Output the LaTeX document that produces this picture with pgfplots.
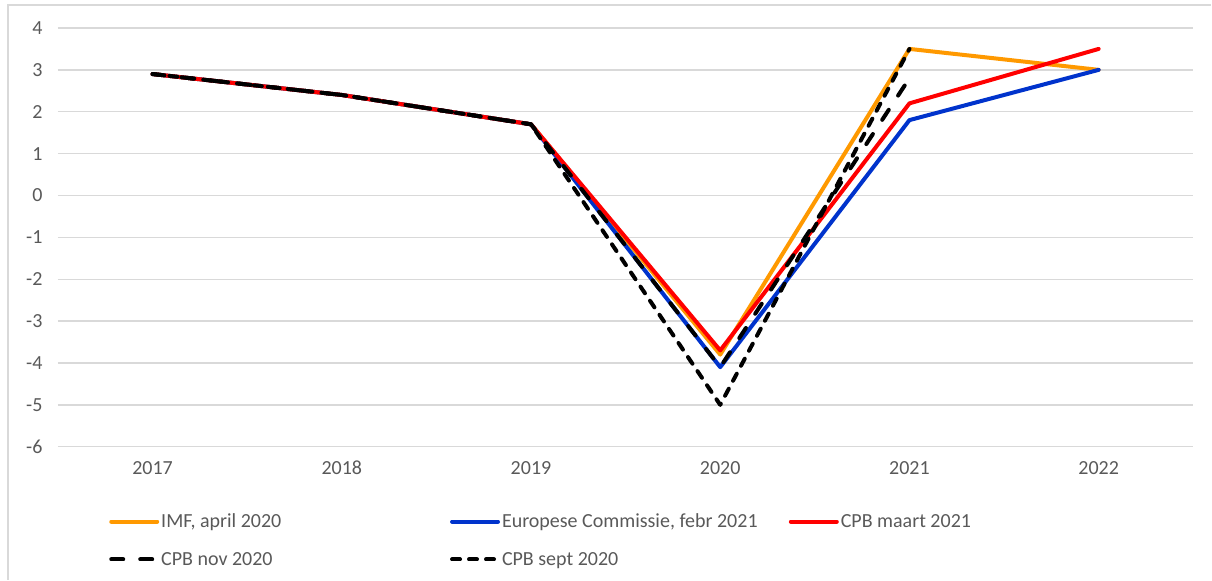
\documentclass[border=0pt]{standalone}
\usepackage{fontspec}
\setmainfont{Carlito}
\usepackage{pgfplots}
\pgfplotsset{compat=1.18}
\definecolor{cOr}{HTML}{FF9900}
\definecolor{cBl}{HTML}{0033CC}
\definecolor{cRd}{HTML}{FF0000}
\definecolor{txtgray}{HTML}{595959}
\definecolor{gridgray}{HTML}{D9D9D9}
\begin{document}
\begin{tikzpicture}
\begin{axis}[
  scale only axis, width=1136pt, height=419pt,
  xmin=-0.5, xmax=5.5, ymin=-6, ymax=4,
  xtick={0,1,2,3,4,5}, xticklabels={2017,2018,2019,2020,2021,2022},
  ytick={-6,-5,-4,-3,-2,-1,0,1,2,3,4},
  yticklabels={{-6},{-5},{-4},{-3},{-2},{-1},{0},{1},{2},{3},{4}},
  ymajorgrids, grid style={draw=gridgray, line width=1.3pt},
  axis line style={draw=none}, major tick length=0pt,
  tick label style={font=\fontsize{20}{24}\selectfont, text=txtgray},
  yticklabel style={xshift=-12pt},
  xticklabel style={yshift=-10pt, text height=14pt, text depth=0pt},
  clip=false,
  legend columns=3,
  legend cell align=left,
  legend style={at={(0.045,-0.155)}, anchor=north west, draw=none, fill=none,
    inner sep=0pt, font=\fontsize{20}{24}\selectfont, text=txtgray,
    row sep=19pt, /tikz/every even column/.append style={column sep=0pt}},
  legend image code/.code={\draw[#1] (0pt,0pt) -- (46pt,0pt);},
  every axis plot/.append style={line width=4pt, line join=round},
]
\addplot[cOr, line cap=round] coordinates {(0,2.9) (1,2.4) (2,1.7) (3,-3.8) (4,3.5) (5,3.0)};
\addlegendentry{\makebox[287pt][l]{IMF, april 2020}}
\addplot[cBl, line cap=round] coordinates {(0,2.9) (1,2.4) (2,1.7) (3,-4.1) (4,1.8) (5,3.0)};
\addlegendentry{\makebox[285pt][l]{Europese Commissie, febr 2021}}
\addplot[cRd, line cap=round] coordinates {(0,2.9) (1,2.4) (2,1.7) (3,-3.7) (4,2.2) (5,3.5)};
\addlegendentry{CPB maart 2021}
\addplot[black, line cap=round, dash pattern=on 12pt off 17pt] coordinates {(0,2.9) (1,2.4) (2,1.7) (3,-4.1) (4,2.8)};
\addlegendentry{\makebox[287pt][l]{CPB nov 2020}}
\addplot[black, line cap=round, dash pattern=on 8pt off 9pt] coordinates {(0,2.9) (1,2.4) (2,1.7) (3,-5.0) (4,3.5)};
\addlegendentry{CPB sept 2020}
\path (rel axis cs:0,0) coordinate (A) (rel axis cs:1,1) coordinate (B);
\end{axis}
\draw[gridgray, line width=1.5pt] ([shift={(-50pt,-133pt)}]A) -- ([shift={(-50pt,23pt)}]A |- B) -- ([shift={(18pt,23pt)}]B);
\path ([shift={(-58pt,-133pt)}]A) rectangle ([shift={(18pt,28pt)}]B);
\end{tikzpicture}
\end{document}
